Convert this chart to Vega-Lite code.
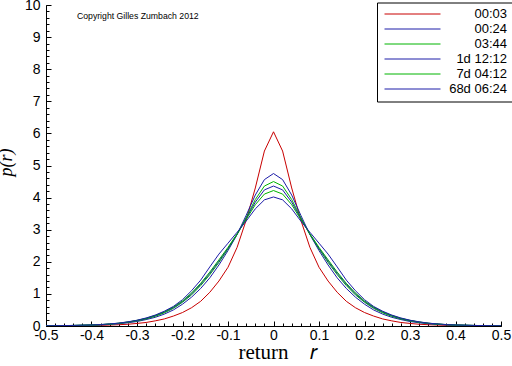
{
"$schema": "https://vega.github.io/schema/vega-lite/v6.json",
"width": 455, "height": 321,
"autosize": {"type": "none"},
"padding": {"left": 46, "top": 5, "right": 11, "bottom": 40},
"background": "white",
"config": {"view": {"stroke": null}, "axis": {"grid": false, "domainColor": "black", "tickColor": "black", "labelColor": "black", "labelFont": "Liberation Sans", "labelFontSize": 14, "titleColor": "black"}},
"data": {"values": [
{"s":"00:03","r":-0.5,"p":0.005},{"s":"00:03","r":-0.45,"p":0.008},{"s":"00:03","r":-0.4,"p":0.015},{"s":"00:03","r":-0.38,"p":0.02},{"s":"00:03","r":-0.36,"p":0.03},{"s":"00:03","r":-0.34,"p":0.04},{"s":"00:03","r":-0.32,"p":0.055},{"s":"00:03","r":-0.3,"p":0.08},{"s":"00:03","r":-0.28,"p":0.11},{"s":"00:03","r":-0.26,"p":0.16},{"s":"00:03","r":-0.24,"p":0.22},{"s":"00:03","r":-0.22,"p":0.31},{"s":"00:03","r":-0.2,"p":0.42},{"s":"00:03","r":-0.18,"p":0.57},{"s":"00:03","r":-0.16,"p":0.77},{"s":"00:03","r":-0.14,"p":1.05},{"s":"00:03","r":-0.12,"p":1.4},{"s":"00:03","r":-0.1,"p":1.83},{"s":"00:03","r":-0.08,"p":2.45},{"s":"00:03","r":-0.06,"p":3.3},{"s":"00:03","r":-0.04,"p":4.3},{"s":"00:03","r":-0.02,"p":5.45},{"s":"00:03","r":0,"p":6.05},
{"s":"00:03","r":0.02,"p":5.45},{"s":"00:03","r":0.04,"p":4.3},{"s":"00:03","r":0.06,"p":3.3},{"s":"00:03","r":0.08,"p":2.45},{"s":"00:03","r":0.1,"p":1.83},{"s":"00:03","r":0.12,"p":1.4},{"s":"00:03","r":0.14,"p":1.05},{"s":"00:03","r":0.16,"p":0.77},{"s":"00:03","r":0.18,"p":0.57},{"s":"00:03","r":0.2,"p":0.42},{"s":"00:03","r":0.22,"p":0.31},{"s":"00:03","r":0.24,"p":0.22},{"s":"00:03","r":0.26,"p":0.16},{"s":"00:03","r":0.28,"p":0.11},{"s":"00:03","r":0.3,"p":0.08},{"s":"00:03","r":0.32,"p":0.055},{"s":"00:03","r":0.34,"p":0.04},{"s":"00:03","r":0.36,"p":0.03},{"s":"00:03","r":0.38,"p":0.02},{"s":"00:03","r":0.4,"p":0.015},{"s":"00:03","r":0.45,"p":0.008},{"s":"00:03","r":0.5,"p":0.005},

{"s":"00:24","r":-0.5,"p":0.006},{"s":"00:24","r":-0.45,"p":0.012},{"s":"00:24","r":-0.4,"p":0.025},{"s":"00:24","r":-0.38,"p":0.035},{"s":"00:24","r":-0.36,"p":0.05},{"s":"00:24","r":-0.34,"p":0.07},{"s":"00:24","r":-0.32,"p":0.1},{"s":"00:24","r":-0.3,"p":0.14},{"s":"00:24","r":-0.28,"p":0.2},{"s":"00:24","r":-0.26,"p":0.27},{"s":"00:24","r":-0.24,"p":0.37},{"s":"00:24","r":-0.22,"p":0.5},{"s":"00:24","r":-0.2,"p":0.68},{"s":"00:24","r":-0.18,"p":0.9},{"s":"00:24","r":-0.16,"p":1.17},{"s":"00:24","r":-0.14,"p":1.5},{"s":"00:24","r":-0.12,"p":1.9},{"s":"00:24","r":-0.1,"p":2.35},{"s":"00:24","r":-0.08,"p":2.85},{"s":"00:24","r":-0.06,"p":3.45},{"s":"00:24","r":-0.04,"p":4.08},{"s":"00:24","r":-0.02,"p":4.56},{"s":"00:24","r":0,"p":4.75},
{"s":"00:24","r":0.02,"p":4.56},{"s":"00:24","r":0.04,"p":4.08},{"s":"00:24","r":0.06,"p":3.45},{"s":"00:24","r":0.08,"p":2.85},{"s":"00:24","r":0.1,"p":2.35},{"s":"00:24","r":0.12,"p":1.9},{"s":"00:24","r":0.14,"p":1.5},{"s":"00:24","r":0.16,"p":1.17},{"s":"00:24","r":0.18,"p":0.9},{"s":"00:24","r":0.2,"p":0.68},{"s":"00:24","r":0.22,"p":0.5},{"s":"00:24","r":0.24,"p":0.37},{"s":"00:24","r":0.26,"p":0.27},{"s":"00:24","r":0.28,"p":0.2},{"s":"00:24","r":0.3,"p":0.14},{"s":"00:24","r":0.32,"p":0.1},{"s":"00:24","r":0.34,"p":0.07},{"s":"00:24","r":0.36,"p":0.05},{"s":"00:24","r":0.38,"p":0.035},{"s":"00:24","r":0.4,"p":0.025},{"s":"00:24","r":0.45,"p":0.012},{"s":"00:24","r":0.5,"p":0.006},

{"s":"03:44","r":-0.5,"p":0.006},{"s":"03:44","r":-0.45,"p":0.013},{"s":"03:44","r":-0.4,"p":0.028},{"s":"03:44","r":-0.38,"p":0.04},{"s":"03:44","r":-0.36,"p":0.057},{"s":"03:44","r":-0.34,"p":0.08},{"s":"03:44","r":-0.32,"p":0.115},{"s":"03:44","r":-0.3,"p":0.16},{"s":"03:44","r":-0.28,"p":0.22},{"s":"03:44","r":-0.26,"p":0.3},{"s":"03:44","r":-0.24,"p":0.41},{"s":"03:44","r":-0.22,"p":0.55},{"s":"03:44","r":-0.2,"p":0.74},{"s":"03:44","r":-0.18,"p":0.97},{"s":"03:44","r":-0.16,"p":1.26},{"s":"03:44","r":-0.14,"p":1.6},{"s":"03:44","r":-0.12,"p":1.98},{"s":"03:44","r":-0.1,"p":2.4},{"s":"03:44","r":-0.08,"p":2.85},{"s":"03:44","r":-0.06,"p":3.38},{"s":"03:44","r":-0.04,"p":3.94},{"s":"03:44","r":-0.02,"p":4.36},{"s":"03:44","r":0,"p":4.5},
{"s":"03:44","r":0.02,"p":4.36},{"s":"03:44","r":0.04,"p":3.94},{"s":"03:44","r":0.06,"p":3.38},{"s":"03:44","r":0.08,"p":2.85},{"s":"03:44","r":0.1,"p":2.4},{"s":"03:44","r":0.12,"p":1.98},{"s":"03:44","r":0.14,"p":1.6},{"s":"03:44","r":0.16,"p":1.26},{"s":"03:44","r":0.18,"p":0.97},{"s":"03:44","r":0.2,"p":0.74},{"s":"03:44","r":0.22,"p":0.55},{"s":"03:44","r":0.24,"p":0.41},{"s":"03:44","r":0.26,"p":0.3},{"s":"03:44","r":0.28,"p":0.22},{"s":"03:44","r":0.3,"p":0.16},{"s":"03:44","r":0.32,"p":0.115},{"s":"03:44","r":0.34,"p":0.08},{"s":"03:44","r":0.36,"p":0.057},{"s":"03:44","r":0.38,"p":0.04},{"s":"03:44","r":0.4,"p":0.028},{"s":"03:44","r":0.45,"p":0.013},{"s":"03:44","r":0.5,"p":0.006},

{"s":"1d 12:12","r":-0.5,"p":0.007},{"s":"1d 12:12","r":-0.45,"p":0.014},{"s":"1d 12:12","r":-0.4,"p":0.03},{"s":"1d 12:12","r":-0.38,"p":0.042},{"s":"1d 12:12","r":-0.36,"p":0.06},{"s":"1d 12:12","r":-0.34,"p":0.085},{"s":"1d 12:12","r":-0.32,"p":0.12},{"s":"1d 12:12","r":-0.3,"p":0.17},{"s":"1d 12:12","r":-0.28,"p":0.23},{"s":"1d 12:12","r":-0.26,"p":0.32},{"s":"1d 12:12","r":-0.24,"p":0.43},{"s":"1d 12:12","r":-0.22,"p":0.57},{"s":"1d 12:12","r":-0.2,"p":0.76},{"s":"1d 12:12","r":-0.18,"p":1.0},{"s":"1d 12:12","r":-0.16,"p":1.3},{"s":"1d 12:12","r":-0.14,"p":1.64},{"s":"1d 12:12","r":-0.12,"p":2.02},{"s":"1d 12:12","r":-0.1,"p":2.42},{"s":"1d 12:12","r":-0.08,"p":2.86},{"s":"1d 12:12","r":-0.06,"p":3.35},{"s":"1d 12:12","r":-0.04,"p":3.86},{"s":"1d 12:12","r":-0.02,"p":4.24},{"s":"1d 12:12","r":0,"p":4.36},
{"s":"1d 12:12","r":0.02,"p":4.24},{"s":"1d 12:12","r":0.04,"p":3.86},{"s":"1d 12:12","r":0.06,"p":3.35},{"s":"1d 12:12","r":0.08,"p":2.86},{"s":"1d 12:12","r":0.1,"p":2.42},{"s":"1d 12:12","r":0.12,"p":2.02},{"s":"1d 12:12","r":0.14,"p":1.64},{"s":"1d 12:12","r":0.16,"p":1.3},{"s":"1d 12:12","r":0.18,"p":1.0},{"s":"1d 12:12","r":0.2,"p":0.76},{"s":"1d 12:12","r":0.22,"p":0.57},{"s":"1d 12:12","r":0.24,"p":0.43},{"s":"1d 12:12","r":0.26,"p":0.32},{"s":"1d 12:12","r":0.28,"p":0.23},{"s":"1d 12:12","r":0.3,"p":0.17},{"s":"1d 12:12","r":0.32,"p":0.12},{"s":"1d 12:12","r":0.34,"p":0.085},{"s":"1d 12:12","r":0.36,"p":0.06},{"s":"1d 12:12","r":0.38,"p":0.042},{"s":"1d 12:12","r":0.4,"p":0.03},{"s":"1d 12:12","r":0.45,"p":0.014},{"s":"1d 12:12","r":0.5,"p":0.007},

{"s":"7d 04:12","r":-0.5,"p":0.007},{"s":"7d 04:12","r":-0.45,"p":0.015},{"s":"7d 04:12","r":-0.4,"p":0.031},{"s":"7d 04:12","r":-0.38,"p":0.044},{"s":"7d 04:12","r":-0.36,"p":0.062},{"s":"7d 04:12","r":-0.34,"p":0.088},{"s":"7d 04:12","r":-0.32,"p":0.125},{"s":"7d 04:12","r":-0.3,"p":0.175},{"s":"7d 04:12","r":-0.28,"p":0.24},{"s":"7d 04:12","r":-0.26,"p":0.33},{"s":"7d 04:12","r":-0.24,"p":0.44},{"s":"7d 04:12","r":-0.22,"p":0.59},{"s":"7d 04:12","r":-0.2,"p":0.78},{"s":"7d 04:12","r":-0.18,"p":1.03},{"s":"7d 04:12","r":-0.16,"p":1.33},{"s":"7d 04:12","r":-0.14,"p":1.68},{"s":"7d 04:12","r":-0.12,"p":2.06},{"s":"7d 04:12","r":-0.1,"p":2.45},{"s":"7d 04:12","r":-0.08,"p":2.87},{"s":"7d 04:12","r":-0.06,"p":3.32},{"s":"7d 04:12","r":-0.04,"p":3.78},{"s":"7d 04:12","r":-0.02,"p":4.11},{"s":"7d 04:12","r":0,"p":4.22},
{"s":"7d 04:12","r":0.02,"p":4.11},{"s":"7d 04:12","r":0.04,"p":3.78},{"s":"7d 04:12","r":0.06,"p":3.32},{"s":"7d 04:12","r":0.08,"p":2.87},{"s":"7d 04:12","r":0.1,"p":2.45},{"s":"7d 04:12","r":0.12,"p":2.06},{"s":"7d 04:12","r":0.14,"p":1.68},{"s":"7d 04:12","r":0.16,"p":1.33},{"s":"7d 04:12","r":0.18,"p":1.03},{"s":"7d 04:12","r":0.2,"p":0.78},{"s":"7d 04:12","r":0.22,"p":0.59},{"s":"7d 04:12","r":0.24,"p":0.44},{"s":"7d 04:12","r":0.26,"p":0.33},{"s":"7d 04:12","r":0.28,"p":0.24},{"s":"7d 04:12","r":0.3,"p":0.175},{"s":"7d 04:12","r":0.32,"p":0.125},{"s":"7d 04:12","r":0.34,"p":0.088},{"s":"7d 04:12","r":0.36,"p":0.062},{"s":"7d 04:12","r":0.38,"p":0.044},{"s":"7d 04:12","r":0.4,"p":0.031},{"s":"7d 04:12","r":0.45,"p":0.015},{"s":"7d 04:12","r":0.5,"p":0.007},

{"s":"68d 06:24","r":-0.5,"p":0.007},{"s":"68d 06:24","r":-0.45,"p":0.015},{"s":"68d 06:24","r":-0.4,"p":0.032},{"s":"68d 06:24","r":-0.38,"p":0.045},{"s":"68d 06:24","r":-0.36,"p":0.065},{"s":"68d 06:24","r":-0.34,"p":0.09},{"s":"68d 06:24","r":-0.32,"p":0.13},{"s":"68d 06:24","r":-0.3,"p":0.18},{"s":"68d 06:24","r":-0.28,"p":0.25},{"s":"68d 06:24","r":-0.26,"p":0.34},{"s":"68d 06:24","r":-0.24,"p":0.46},{"s":"68d 06:24","r":-0.22,"p":0.61},{"s":"68d 06:24","r":-0.2,"p":0.82},{"s":"68d 06:24","r":-0.18,"p":1.1},{"s":"68d 06:24","r":-0.16,"p":1.43},{"s":"68d 06:24","r":-0.14,"p":1.84},{"s":"68d 06:24","r":-0.12,"p":2.24},{"s":"68d 06:24","r":-0.1,"p":2.58},{"s":"68d 06:24","r":-0.08,"p":2.92},{"s":"68d 06:24","r":-0.06,"p":3.27},{"s":"68d 06:24","r":-0.04,"p":3.65},{"s":"68d 06:24","r":-0.02,"p":3.93},{"s":"68d 06:24","r":0,"p":4.02},
{"s":"68d 06:24","r":0.02,"p":3.93},{"s":"68d 06:24","r":0.04,"p":3.65},{"s":"68d 06:24","r":0.06,"p":3.27},{"s":"68d 06:24","r":0.08,"p":2.92},{"s":"68d 06:24","r":0.1,"p":2.58},{"s":"68d 06:24","r":0.12,"p":2.24},{"s":"68d 06:24","r":0.14,"p":1.84},{"s":"68d 06:24","r":0.16,"p":1.43},{"s":"68d 06:24","r":0.18,"p":1.1},{"s":"68d 06:24","r":0.2,"p":0.82},{"s":"68d 06:24","r":0.22,"p":0.61},{"s":"68d 06:24","r":0.24,"p":0.46},{"s":"68d 06:24","r":0.26,"p":0.34},{"s":"68d 06:24","r":0.28,"p":0.25},{"s":"68d 06:24","r":0.3,"p":0.18},{"s":"68d 06:24","r":0.32,"p":0.13},{"s":"68d 06:24","r":0.34,"p":0.09},{"s":"68d 06:24","r":0.36,"p":0.065},{"s":"68d 06:24","r":0.38,"p":0.045},{"s":"68d 06:24","r":0.4,"p":0.032},{"s":"68d 06:24","r":0.45,"p":0.015},{"s":"68d 06:24","r":0.5,"p":0.007}
]},
"layer": [
{"mark": {"type": "line", "strokeWidth": 1, "clip": true},
 "encoding": {
  "x": {"field": "r", "type": "quantitative", "scale": {"domain": [-0.5, 0.5], "nice": false, "zero": false},
        "axis": {"orient": "bottom", "values": [-0.5,-0.4,-0.3,-0.2,-0.1,0,0.1,0.2,0.3,0.4,0.5], "tickSize": -5, "labelPadding": 7, "labelFlush": false, "labelOverlap": false,
                 "labelExpr": "replace(format(datum.value, '.1~f'), '\u2212', '-')",
                 "title": "return\u2003𝑟", "titleFont": "Liberation Serif", "titleFontSize": 21, "titleFontWeight": "normal",
                 "titleX": 231.5, "titleY": 32, "titleAlign": "center", "titleBaseline": "alphabetic"}},
  "y": {"field": "p", "type": "quantitative", "scale": {"domain": [0, 10], "nice": false},
        "axis": {"orient": "left", "values": [0,1,2,3,4,5,6,7,8,9,10], "tickSize": -5, "labelPadding": 11, "labelOverlap": false, "labelFlush": false,
                 "title": "p(r)", "titleFont": "Liberation Serif", "titleFontSize": 18, "titleFontStyle": "italic", "titleFontWeight": "normal",
                 "titleX": -31, "titleY": 157, "titleBaseline": "bottom", "titleAngle": -90}},
  "color": {"field": "s", "type": "nominal",
            "scale": {"domain": ["00:03","00:24","03:44","1d 12:12","7d 04:12","68d 06:24"], "range": ["#c80000","#1c1ca8","#00b400","#1c1ca8","#00b400","#1c1ca8"]},
            "legend": {"orient": "none", "legendX": 331, "legendY": -2.5, "title": null, "symbolType": "M-7,0H7", "symbolSize": 64, "symbolStrokeWidth": 1, "symbolOffset": 24,
                       "labelAlign": "right", "labelOffset": 88, "labelFont": "Liberation Sans", "labelFontSize": 13, "labelColor": "black", "labelLimit": 300,
                       "strokeColor": "black", "fillColor": "white", "padding": 5, "rowPadding": 1}}
 }},
{"data": {"values": [{}]},
 "mark": {"type": "text", "align": "left", "baseline": "middle", "font": "Liberation Sans", "fontSize": 8.7, "color": "black"},
 "encoding": {
  "x": {"datum": -0.432, "type": "quantitative", "axis": {"orient": "bottom", "values": [-0.5,-0.48,-0.46,-0.44,-0.42,-0.4,-0.38,-0.36,-0.34,-0.32,-0.3,-0.28,-0.26,-0.24,-0.22,-0.2,-0.18,-0.16,-0.14,-0.12,-0.1,-0.08,-0.06,-0.04,-0.02,0,0.02,0.04,0.06,0.08,0.1,0.12,0.14,0.16,0.18,0.2,0.22,0.24,0.26,0.28,0.3,0.32,0.34,0.36,0.38,0.4,0.42,0.44,0.46,0.48,0.5], "tickSize": -3, "labels": false, "domain": false, "title": null}},
  "y": {"datum": 9.67, "type": "quantitative", "axis": {"orient": "left", "values": [0,0.2,0.4,0.6,0.8,1,1.2,1.4,1.6,1.8,2,2.2,2.4,2.6,2.8,3,3.2,3.4,3.6,3.8,4,4.2,4.4,4.6,4.8,5,5.2,5.4,5.6,5.8,6,6.2,6.4,6.6,6.8,7,7.2,7.4,7.6,7.8,8,8.2,8.4,8.6,8.8,9,9.2,9.4,9.6,9.8,10], "tickSize": -3, "labels": false, "domain": false, "title": null}},
  "text": {"value": "Copyright Gilles Zumbach 2012"}
 }}
],
"resolve": {"axis": {"x": "independent", "y": "independent"}}
}
